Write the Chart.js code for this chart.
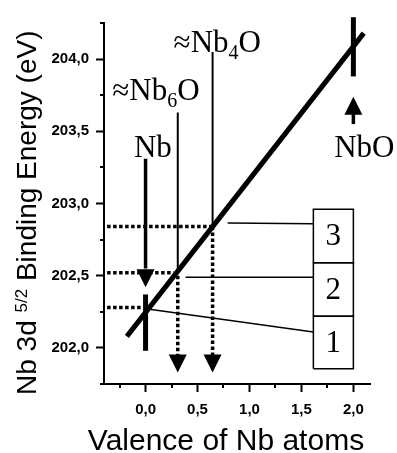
<!DOCTYPE html>
<html>
<head>
<meta charset="utf-8">
<script src="https://cdn.jsdelivr.net/npm/chart.js@4.4.1/dist/chart.umd.min.js"></script>
<style>
  html, body { margin: 0; padding: 0; background: #fff; }
  #wrap { width: 397px; height: 453px; }
</style>
</head>
<body>
<div id="wrap"><canvas id="grafico"></canvas></div>
<script>
// Ticks (major with labels, minor without)
const xTicks = [0, 0.5, 1.0, 1.5, 2.0];
const yTicks = [202.0, 202.5, 203.0, 203.5, 204.0];
const xMinor = [-0.25, 0.25, 0.75, 1.25, 1.75];
const yMinor = [201.75, 202.25, 202.75, 203.25, 203.75, 204.25];

// Linear fit: binding energy vs valence
const fitLine = [{ x: -0.18, y: 202.08 }, { x: 2.10, y: 204.18 }];

// Thick reference bars (Nb metal, NbO)
const barNb = [{ x: 0, y: 201.98 }, { x: 0, y: 202.37 }];
const barNbO = [{ x: 2.0, y: 203.88 }, { x: 2.0, y: 204.29 }];

// Arrow shafts for the Nb and NbO labels
const shaftNb = [{ x: 0, y: 203.31 }, { x: 0, y: 202.55 }];
const shaftNbO = [{ x: 2.0, y: 203.55 }, { x: 2.0, y: 203.63 }];

// Thin lines from suboxide labels to the fit line
const lineNb6O = [{ x: 0.31, y: 203.63 }, { x: 0.31, y: 202.53 }];
const lineNb4O = [{ x: 0.645, y: 204.05 }, { x: 0.645, y: 202.85 }];

// Dotted guide lines (horizontal to the axis, vertical down to valence)
const dotH = [
  [{ x: -0.37, y: 202.84 }, { x: 0.63, y: 202.84 }],
  [{ x: -0.37, y: 202.52 }, { x: 0.27, y: 202.52 }],
  [{ x: -0.37, y: 202.28 }, { x: -0.04, y: 202.28 }]
];
const dotV = [
  [{ x: 0.31, y: 202.50 }, { x: 0.31, y: 201.95 }],
  [{ x: 0.645, y: 202.84 }, { x: 0.645, y: 201.95 }]
];

// Arrow heads: tip position, dir 1 = down, -1 = up
const arrowTips = [
  { x: 0, y: 202.42, dir: 1 },
  { x: 0.31, y: 201.83, dir: 1 },
  { x: 0.645, y: 201.83, dir: 1 },
  { x: 2.0, y: 203.74, dir: -1 }
];

// Leader lines to the numbered boxes
const leaders = [
  [{ x: 0.79, y: 202.865 }, { x: 1.615, y: 202.86 }],
  [{ x: 0.385, y: 202.49 }, { x: 1.615, y: 202.49 }],
  [{ x: 0.02, y: 202.27 }, { x: 1.615, y: 202.11 }]
];

// Numbered boxes
const boxX = [1.615, 2.0];
const boxY = [201.855, 202.22, 202.59, 202.96];
const boxLabels = ["1", "2", "3"];

// Text labels (serif), parts: [text, subscript?]
const textLabels = [
  { parts: [["Nb", false]], x: 0.07, y: 203.32, align: "center" },
  { parts: [["≈Nb", false], ["6", true], ["O", false]], x: -0.32, y: 203.716, align: "left" },
  { parts: [["≈Nb", false], ["4", true], ["O", false]], x: 0.27, y: 204.05, align: "left" },
  { parts: [["NbO", false]], x: 2.105, y: 203.32, align: "center" }
];

// Axis titles
const xTitle = "Valence of Nb atoms";
const yTitleParts = [["Nb 3d ", false], ["5/2", true], [" Binding Energy (eV)", false]];

const SERIF = '"Liberation Serif", "Times New Roman", serif';
const SANS = '"Liberation Sans", Arial, sans-serif';

function seg(data, width, dash) {
  return {
    data: data,
    showLine: true,
    borderColor: "#000",
    borderWidth: width,
    borderDash: dash || [],
    pointRadius: 0,
    tension: 0,
    clip: false
  };
}

const datasets = [];
datasets.push(seg(fitLine, 5));
datasets.push(seg(barNb, 5));
datasets.push(seg(barNbO, 5));
datasets.push(seg(shaftNb, 3.5));
datasets.push(seg(shaftNbO, 3.5));
datasets.push(seg(lineNb6O, 2));
datasets.push(seg(lineNb4O, 2));
dotH.forEach(d => datasets.push(seg(d, 3.5, [3.5, 2.5])));
dotV.forEach(d => datasets.push(seg(d, 3.5, [3.5, 2.5])));
leaders.forEach(d => datasets.push(seg(d, 1.5)));
for (let i = 0; i < boxLabels.length; i++) {
  datasets.push(seg([
    { x: boxX[0], y: boxY[i] }, { x: boxX[1], y: boxY[i] },
    { x: boxX[1], y: boxY[i + 1] }, { x: boxX[0], y: boxY[i + 1] },
    { x: boxX[0], y: boxY[i] }
  ], 1.5));
}

// Plugin: minor ticks, arrow heads, text labels, axis titles
const extras = {
  id: "extras",
  afterDraw(chart) {
    const ctx = chart.ctx;
    const xs = chart.scales.x, ys = chart.scales.y;
    const area = chart.chartArea;
    ctx.save();
    ctx.strokeStyle = "#000";
    ctx.fillStyle = "#000";
    ctx.lineWidth = 2;

    // minor ticks
    ctx.beginPath();
    xMinor.forEach(v => {
      const px = Math.round(xs.getPixelForValue(v));
      ctx.moveTo(px, area.bottom);
      ctx.lineTo(px, area.bottom + 4);
    });
    yMinor.forEach(v => {
      const py = Math.round(ys.getPixelForValue(v));
      ctx.moveTo(area.left, py);
      ctx.lineTo(area.left - 4, py);
    });
    ctx.stroke();

    // arrow heads
    arrowTips.forEach(a => {
      const px = xs.getPixelForValue(a.x);
      const py = ys.getPixelForValue(a.y);
      const base = py - a.dir * 18;
      ctx.beginPath();
      ctx.moveTo(px, py);
      ctx.lineTo(px - 9, base);
      ctx.lineTo(px + 9, base);
      ctx.closePath();
      ctx.fill();
    });

    // serif labels with subscripts
    ctx.textBaseline = "alphabetic";
    textLabels.forEach(t => {
      let w = 0;
      t.parts.forEach(p => {
        ctx.font = (p[1] ? "20px " : "31px ") + SERIF;
        w += ctx.measureText(p[0]).width;
      });
      let px = xs.getPixelForValue(t.x);
      const py = ys.getPixelForValue(t.y);
      if (t.align === "center") px -= w / 2;
      ctx.textAlign = "left";
      t.parts.forEach(p => {
        ctx.font = (p[1] ? "20px " : "31px ") + SERIF;
        ctx.fillText(p[0], px, p[1] ? py + 7 : py);
        px += ctx.measureText(p[0]).width;
      });
    });

    // box numbers
    ctx.font = "31px " + SERIF;
    ctx.textAlign = "center";
    ctx.textBaseline = "middle";
    boxLabels.forEach((lab, i) => {
      const px = xs.getPixelForValue((boxX[0] + boxX[1]) / 2);
      const py = ys.getPixelForValue((boxY[i] + boxY[i + 1]) / 2);
      ctx.fillText(lab, px, py + 1);
    });

    // x-axis title
    ctx.font = "30px " + SANS;
    ctx.textAlign = "center";
    ctx.textBaseline = "alphabetic";
    ctx.fillText(xTitle, 226, 450);

    // y-axis title with superscript
    ctx.translate(36, 395);
    ctx.rotate(-Math.PI / 2);
    ctx.textAlign = "left";
    let tx = 0;
    yTitleParts.forEach(p => {
      ctx.font = (p[1] ? "17px " : "28px ") + SANS;
      ctx.fillText(p[0], tx, p[1] ? -9 : 0);
      tx += ctx.measureText(p[0]).width;
    });
    ctx.restore();
  }
};

const fmt = v => v.toFixed(1).replace(".", ",");

new Chart(document.getElementById("grafico"), {
  type: "scatter",
  data: { datasets: datasets },
  options: {
    responsive: true,
    maintainAspectRatio: false,
    animation: false,
    layout: { padding: { top: 23, right: 27, left: 0, bottom: 0 } },
    plugins: { legend: { display: false }, tooltip: { enabled: false } },
    scales: {
      x: {
        type: "linear",
        min: -0.4,
        max: 2.16,
        afterBuildTicks: s => { s.ticks = xTicks.map(v => ({ value: v })); },
        afterFit: s => { s.height = 69; },
        border: { color: "#000", width: 2 },
        grid: { drawOnChartArea: false, tickLength: 8, tickColor: "#000", tickWidth: 2 },
        ticks: {
          color: "#000",
          padding: 9,
          font: { family: SANS, size: 15, weight: "bold" },
          callback: v => fmt(v)
        }
      },
      y: {
        type: "linear",
        min: 201.75,
        max: 204.25,
        afterBuildTicks: s => { s.ticks = yTicks.map(v => ({ value: v })); },
        afterFit: s => { s.width = 104; },
        border: { color: "#000", width: 2 },
        grid: { drawOnChartArea: false, tickLength: 8, tickColor: "#000", tickWidth: 2 },
        ticks: {
          color: "#000",
          padding: 7,
          font: { family: SANS, size: 15, weight: "bold" },
          callback: v => fmt(v)
        }
      }
    }
  },
  plugins: [extras]
});
</script>
</body>
</html>
